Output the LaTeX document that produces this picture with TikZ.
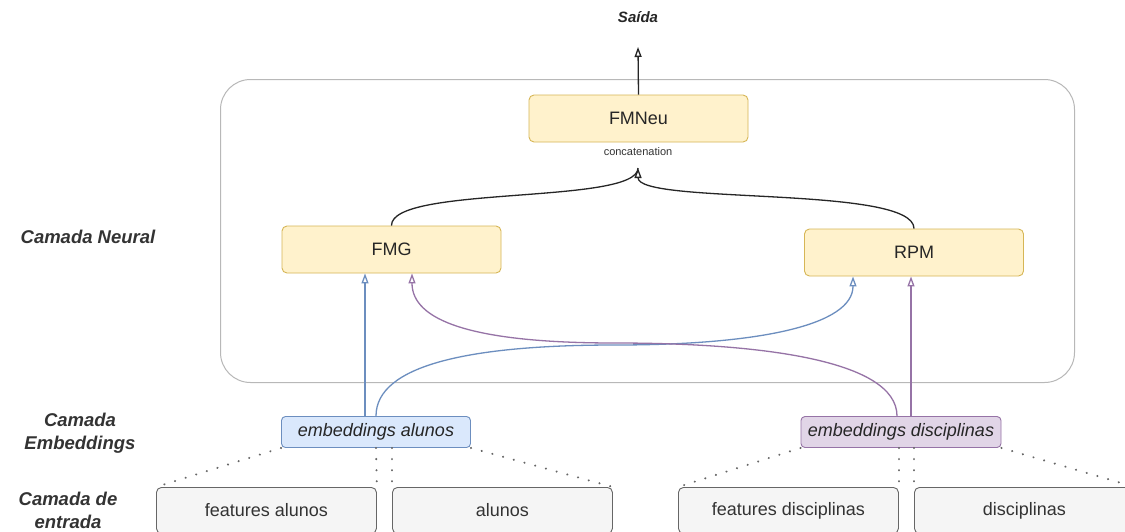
\documentclass[tikz,border=0pt]{standalone}
\usepackage{fontspec}
\setmainfont{Liberation Sans}
\usetikzlibrary{arrows.meta}
\definecolor{ybg}{HTML}{FFF2CC}
\definecolor{ybd}{HTML}{D6B656}
\definecolor{bbg}{HTML}{DAE8FC}
\definecolor{bbd}{HTML}{6C8EBF}
\definecolor{pbg}{HTML}{E1D5E7}
\definecolor{pbd}{HTML}{9673A6}
\definecolor{gbg}{HTML}{F5F5F5}
\definecolor{gbd}{HTML}{666666}
\definecolor{txt}{HTML}{333333}
\definecolor{frame}{HTML}{B8B8B8}
\tikzset{
  ybox/.style={draw=ybd, fill=ybg, rounded corners=5pt, line width=0.9pt, minimum width=219pt, minimum height=47pt, font=\fontsize{18}{22}\selectfont, text=black!85, inner sep=0pt},
  ebox/.style={rounded corners=4pt, line width=0.9pt, minimum height=31pt, font=\fontsize{18}{22}\selectfont\itshape, text=black!85, inner sep=0pt},
  inbox/.style={draw=gbd, fill=gbg, rounded corners=5pt, line width=0.9pt, minimum width=220pt, minimum height=46pt, font=\fontsize{18}{22}\selectfont, text=txt, inner sep=0pt},
  layerlab/.style={font=\fontsize{18.5}{23}\selectfont\bfseries\itshape, text=txt, align=center},
  conn/.style={line width=1.3pt, -{Triangle[open, length=10pt, width=7pt]}},
  dots/.style={draw=gbd, line width=2.2pt, dash pattern=on 0.1pt off 11pt, line cap=round},
}
\begin{document}
\begin{tikzpicture}[x=1pt, y=-1pt]
\useasboundingbox[fill=white] (0,0) rectangle (1125,531);
\clip (0,0) rectangle (1125,531);
% frame
\node[draw=frame, line width=1pt, rounded corners=30pt, minimum width=854pt, minimum height=303pt, anchor=north west, inner sep=0pt] (frame) at (220,79) {};
% nodes
\node[font=\fontsize{15}{18}\selectfont\bfseries\itshape, text=black!85] (saida) at (638,17) {Saída};
\coordinate (saidaPt) at (638,47);
\node[ybox] (fmneu) at (638.5,118.5) {FMNeu};
\node[font=\fontsize{11}{13}\selectfont, text=txt] (concat) at (638,152) {concatenation};
\coordinate (cpt) at (638,168);
\coordinate (mid1) at (615,345);
\coordinate (mid2) at (615,343);
\node[ybox] (fmg) at (391.5,249.5) {FMG};
\node[ybox] (rpm) at (914,252.5) {RPM};
\node[ebox, draw=bbd, fill=bbg, minimum width=189pt] (ea) at (376,432) {embeddings alunos};
\node[ebox, draw=pbd, fill=pbg, minimum width=200pt] (ed) at (901,432) {embeddings disciplinas};
\node[inbox, anchor=north west] (fa) at (156,487) {features alunos};
\node[inbox, anchor=north west] (al) at (392,487) {alunos};
\node[inbox, anchor=north west] (fd) at (678,487) {features disciplinas};
\node[inbox, anchor=north west] (di) at (914,487) {disciplinas};
% layer labels
\node[layerlab] (l1) at (88,237) {Camada Neural};
\node[layerlab] (l2) at (80,433) {Camada\\Embeddings};
\node[layerlab] (l3) at (68,510) {Camada de\\entrada};
% connectors
\draw[conn, black!85] (fmneu.north) -- (saidaPt);
\draw[line width=1.3pt, black!85] (fmg.north) .. controls (391,185) and (638,205) .. (cpt);
\draw[conn, black!85] (rpm.north) .. controls (914,185) and (638,205) .. (cpt);
\draw[conn, bbd] ([xshift=-11pt]ea.north) -- (fmg.south -| 365,0);
\draw[conn, bbd] (ea.north) .. controls (376,365) and (470,345) .. (mid1)
   .. controls (760,345) and (853,325) .. (rpm.south -| 853,0);
\draw[conn, pbd] ([xshift=-4pt]ed.north) .. controls (897,360) and (760,343) .. (mid2)
   .. controls (470,343) and (412,320) .. (fmg.south -| 412,0);
\draw[conn, pbd] ([xshift=10pt]ed.north) -- (rpm.south -| 911,0);
% dotted links
\draw[dots] (ea.south west) -- (fa.north west);
\draw[dots] (ea.south) -- (fa.north east);
\draw[dots] (ea.south -| al.north west) -- (al.north west);
\draw[dots] (ea.south east) -- (al.north east);
\draw[dots] (ed.south west) -- (fd.north west);
\draw[dots] (ed.south -| fd.north east) -- (fd.north east);
\draw[dots] (ed.south -| di.north west) -- (di.north west);
\draw[dots] (ed.south east) -- (di.north east);
\end{tikzpicture}
\end{document}
